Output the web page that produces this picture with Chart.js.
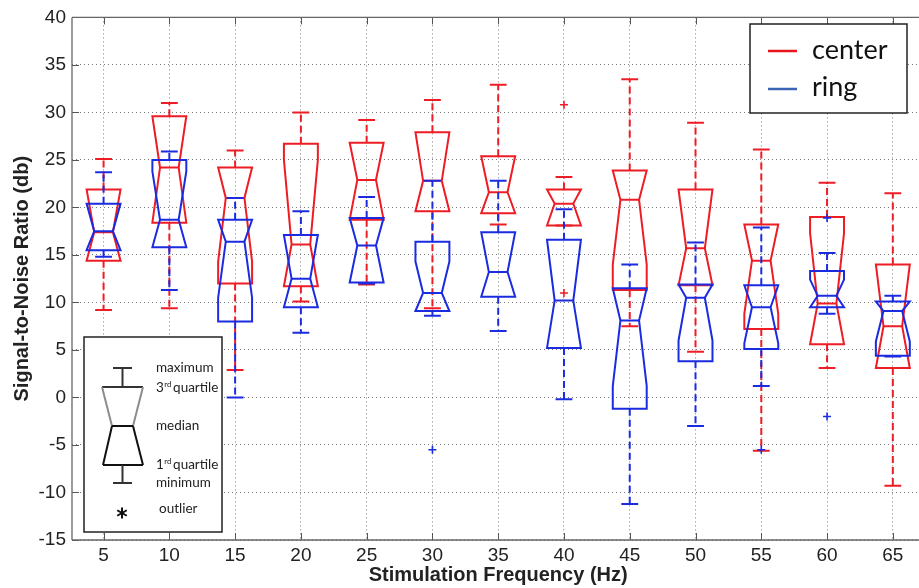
<!DOCTYPE html>
<html>
<head>
<meta charset="utf-8">
<script src="https://cdn.jsdelivr.net/npm/chart.js@4.4.1/dist/chart.umd.min.js"></script>
<style>
  html, body { margin: 0; padding: 0; background: #fff; overflow: hidden; }
  #wrap { width: 919px; height: 588px; overflow: hidden; }
</style>
</head>
<body>
<div id="wrap"><canvas id="snr-chart" width="930" height="588"></canvas></div>
<script>
// stimulation frequencies (Hz)
const frequencies = [5, 10, 15, 20, 25, 30, 35, 40, 45, 50, 55, 60, 65];

// center electrode (red)
const centerMax     = [25.1, 31.0, 26.0, 30.0, 29.2, 31.3, 32.9, 23.2, 33.5, 28.9, 26.1, 22.6, 21.5];
const centerQ3      = [21.9, 29.6, 24.2, 26.7, 26.8, 27.9, 25.4, 21.9, 23.9, 21.9, 18.2, 19.0, 14.0];
const centerNotchHi = [21.9, 29.6, 24.2, 25.0, 26.8, 27.9, 25.4, 21.9, 23.9, 21.9, 18.2, 17.3, 14.0];
const centerMedian  = [17.4, 24.2, 21.0, 16.1, 22.9, 22.8, 21.6, 20.4, 20.8, 15.7, 14.4, 9.9, 7.5];
const centerNotchLo = [14.4, 18.4, 14.3, 11.7, 18.7, 19.6, 19.4, 18.1, 14.0, 11.8, 8.8, 5.6, 3.1];
const centerQ1      = [14.4, 18.4, 12.0, 11.7, 18.7, 19.6, 19.4, 18.1, 11.3, 11.8, 7.2, 5.6, 3.1];
const centerMin     = [9.2, 9.4, 2.9, 10.1, 11.9, 9.4, 18.2, 18.1, 7.5, 4.8, -5.6, 3.1, -9.3];
const centerOutlierX = [40, 40];
const centerOutlierY = [30.8, 11.0];

// ring electrode (blue)
const ringMax     = [23.7, 25.9, 21.0, 19.6, 21.1, 22.8, 22.8, 19.8, 14.0, 16.3, 17.9, 15.2, 10.7];
const ringQ3      = [20.4, 25.0, 18.7, 17.1, 18.9, 16.4, 17.4, 16.6, 11.5, 11.9, 11.8, 13.3, 10.1];
const ringNotchHi = [20.4, 23.8, 18.7, 17.1, 18.9, 14.3, 17.4, 16.6, 11.5, 11.9, 11.8, 12.4, 10.1];
const ringMedian  = [17.5, 18.7, 16.4, 12.5, 16.0, 11.0, 13.2, 10.2, 8.1, 10.5, 9.5, 10.7, 9.1];
const ringNotchLo = [15.5, 15.8, 10.5, 9.5, 12.1, 9.1, 10.6, 5.2, 1.2, 6.0, 5.7, 9.5, 5.9];
const ringQ1      = [15.5, 15.8, 8.0, 9.5, 12.1, 9.1, 10.6, 5.2, -1.2, 3.8, 5.1, 9.5, 4.4];
const ringMin     = [14.8, 11.3, 0.0, 6.8, 12.0, 8.6, 7.0, -0.2, -11.2, -3.0, 1.2, 8.8, 4.3];
const ringOutlierX = [30, 55, 60, 60];
const ringOutlierY = [-5.5, -5.5, 18.9, -2.0];

const yTickMin = -15, yTickMax = 40, yTickStep = 5;

const RED = '#ee1c24';
const BLUE = '#1a2be0';
const FONT = "'Liberation Sans', Arial, sans-serif";
const KEY_FONT = "Lato, 'Open Sans', sans-serif";
const BOX_HALF = 1.29;   // Hz
const CAP_HALF = 0.64;   // Hz

function buildStats(mx, q3, nhi, med, nlo, q1, mn) {
  return frequencies.map((f, i) => ({
    f, max: mx[i], q3: q3[i], nhi: nhi[i], med: med[i], nlo: nlo[i], q1: q1[i], min: mn[i]
  }));
}
const centerStats = buildStats(centerMax, centerQ3, centerNotchHi, centerMedian, centerNotchLo, centerQ1, centerMin);
const ringStats = buildStats(ringMax, ringQ3, ringNotchHi, ringMedian, ringNotchLo, ringQ1, ringMin);

function seg(ctx, x1, y1, x2, y2) {
  ctx.beginPath();
  ctx.moveTo(x1, y1);
  ctx.lineTo(x2, y2);
  ctx.stroke();
}

function drawBox(ctx, xs, ys, s, color) {
  const cx = xs.getPixelForValue(s.f);
  const hw = xs.getPixelForValue(s.f + BOX_HALF) - cx;
  const nw = hw * 0.55;
  const cw = xs.getPixelForValue(s.f + CAP_HALF) - cx;
  const py = v => ys.getPixelForValue(v);

  ctx.strokeStyle = color;
  ctx.lineWidth = 2;
  ctx.lineJoin = 'miter';

  // whiskers
  ctx.setLineDash([7, 4]);
  seg(ctx, cx, py(s.q3), cx, py(s.max));
  seg(ctx, cx, py(s.q1), cx, py(s.min));
  ctx.setLineDash([]);
  seg(ctx, cx - cw, py(s.max), cx + cw, py(s.max));
  seg(ctx, cx - cw, py(s.min), cx + cw, py(s.min));

  // notched box
  ctx.beginPath();
  ctx.moveTo(cx - hw, py(s.q1));
  ctx.lineTo(cx - hw, py(s.nlo));
  ctx.lineTo(cx - nw, py(s.med));
  ctx.lineTo(cx - hw, py(s.nhi));
  ctx.lineTo(cx - hw, py(s.q3));
  ctx.lineTo(cx + hw, py(s.q3));
  ctx.lineTo(cx + hw, py(s.nhi));
  ctx.lineTo(cx + nw, py(s.med));
  ctx.lineTo(cx + hw, py(s.nlo));
  ctx.lineTo(cx + hw, py(s.q1));
  ctx.closePath();
  ctx.stroke();

  seg(ctx, cx - nw, py(s.med), cx + nw, py(s.med));
}

const boxPlugin = {
  id: 'notchedBoxes',
  beforeDatasetsDraw(chart) {
    const { ctx, chartArea: a, scales: { x, y } } = chart;
    ctx.save();
    ctx.beginPath();
    ctx.rect(a.left, a.top, a.right - a.left, a.bottom - a.top);
    ctx.clip();
    centerStats.forEach(s => drawBox(ctx, x, y, s, RED));
    ringStats.forEach(s => drawBox(ctx, x, y, s, BLUE));
    ctx.restore();
  },
  afterDatasetsDraw(chart) {
    const { ctx, chartArea: a, scales: { x, y } } = chart;
    ctx.save();
    ctx.strokeStyle = '#555';
    ctx.lineWidth = 1;
    // inward tick marks, MATLAB style
    x.ticks.forEach(t => {
      const px = Math.round(x.getPixelForValue(t.value)) + 0.5;
      seg(ctx, px, a.top, px, a.top + 7);
      seg(ctx, px, a.bottom, px, a.bottom - 7);
    });
    y.ticks.forEach(t => {
      const py = Math.round(y.getPixelForValue(t.value)) + 0.5;
      seg(ctx, a.left, py, a.left + 7, py);
    });
    ctx.strokeStyle = '#666';
    ctx.lineWidth = 1.3;
    seg(ctx, a.left, a.top, a.right, a.top);
    seg(ctx, a.left, a.top, a.left, a.bottom);
    seg(ctx, a.left, a.bottom, a.right, a.bottom);
    ctx.restore();
  },
  afterDraw(chart) {
    const { ctx } = chart;
    ctx.save();

    // series legend, top right
    ctx.fillStyle = '#fff';
    ctx.fillRect(750, 24, 157, 89);
    ctx.strokeStyle = '#222';
    ctx.lineWidth = 1.5;
    ctx.strokeRect(750, 24, 157, 89);
    ctx.lineWidth = 2.5;
    ctx.strokeStyle = '#e8141c';
    seg(ctx, 768, 51, 797, 51);
    ctx.strokeStyle = '#3c64b4';
    seg(ctx, 768, 89, 797, 89);
    ctx.fillStyle = '#111';
    ctx.font = '27px ' + KEY_FONT;
    ctx.textBaseline = 'middle';
    ctx.textAlign = 'left';
    ctx.fillText('center', 812, 50);
    ctx.fillText('ring', 812, 87);

    // box key, bottom left
    ctx.fillStyle = '#fff';
    ctx.fillRect(84, 337, 138, 195);
    ctx.strokeStyle = '#222';
    ctx.lineWidth = 1.5;
    ctx.strokeRect(84, 337, 138, 195);

    ctx.lineWidth = 2;
    ctx.strokeStyle = '#333';
    seg(ctx, 113, 368, 132, 368);
    seg(ctx, 122.5, 368, 122.5, 387);
    seg(ctx, 102, 387, 143, 387);
    ctx.strokeStyle = '#8c8c8c';
    seg(ctx, 102, 387, 112, 426);
    seg(ctx, 143, 387, 133, 426);
    ctx.strokeStyle = '#111';
    seg(ctx, 112, 426, 133, 426);
    seg(ctx, 112, 426, 103, 465);
    seg(ctx, 133, 426, 143, 465);
    seg(ctx, 103, 465, 143, 465);
    ctx.strokeStyle = '#333';
    seg(ctx, 122.5, 465, 122.5, 483);
    seg(ctx, 113, 483, 132, 483);

    // outlier glyph
    ctx.strokeStyle = '#111';
    ctx.lineWidth = 2;
    for (let k = 0; k < 3; k++) {
      const ang = Math.PI / 2 + k * Math.PI / 3;
      const dx = Math.cos(ang) * 5.5, dy = Math.sin(ang) * 5.5;
      seg(ctx, 122 - dx, 513 - dy, 122 + dx, 513 + dy);
    }

    ctx.fillStyle = '#222';
    ctx.font = '13.5px ' + KEY_FONT;
    ctx.fillText('maximum', 156, 368);
    ctx.fillText('median', 156, 426);
    ctx.fillText('minimum', 156, 483);
    ctx.fillText('outlier', 159, 509);
    const withSup = (base, sup, rest, yy) => {
      ctx.font = '13.5px ' + KEY_FONT;
      ctx.fillText(base, 156, yy);
      let xx = 156 + ctx.measureText(base).width;
      ctx.font = '8px ' + KEY_FONT;
      ctx.fillText(sup, xx + 0.5, yy - 4);
      xx += ctx.measureText(sup).width + 2;
      ctx.font = '13.5px ' + KEY_FONT;
      ctx.fillText(rest, xx, yy);
    };
    withSup('3', 'rd', 'quartile', 388);
    withSup('1', 'rd', 'quartile', 465);

    ctx.restore();
  }
};

const ctx = document.getElementById('snr-chart').getContext('2d');
new Chart(ctx, {
  type: 'scatter',
  data: {
    datasets: [
      {
        label: 'center',
        data: centerOutlierX.map((v, i) => ({ x: v, y: centerOutlierY[i] })),
        pointStyle: 'cross',
        radius: 4,
        borderColor: RED,
        borderWidth: 1.6,
      },
      {
        label: 'ring',
        data: ringOutlierX.map((v, i) => ({ x: v, y: ringOutlierY[i] })),
        pointStyle: 'cross',
        radius: 4,
        borderColor: BLUE,
        borderWidth: 1.6,
      },
    ],
  },
  options: {
    responsive: false,
    animation: false,
    layout: { padding: { top: 15, right: 3, left: 0, bottom: 0 } },
    plugins: {
      legend: { display: false },
      tooltip: { enabled: false },
    },
    scales: {
      x: {
        type: 'linear',
        min: 2.6,
        max: 67.4,
        afterBuildTicks: (axis) => {
          axis.ticks = frequencies.map(v => ({ value: v }));
        },
        afterFit: (axis) => { axis.height = 48; },
        ticks: {
          padding: 4,
          color: '#222',
          font: { family: FONT, size: 19 },
          callback: (v) => String(v),
        },
        grid: { color: '#7a7a7a', lineWidth: 1, drawTicks: false },
        border: { display: false, dash: [1, 3] },
        title: {
          display: true,
          text: 'Stimulation Frequency (Hz)',
          color: '#222',
          font: { family: FONT, size: 20, weight: 'bold' },
          padding: { top: 0, bottom: 1 },
        },
      },
      y: {
        min: yTickMin,
        max: yTickMax,
        afterFit: (axis) => { axis.width = 72; },
        ticks: {
          stepSize: yTickStep,
          padding: 6,
          color: '#222',
          font: { family: FONT, size: 19 },
        },
        grid: { color: '#7a7a7a', lineWidth: 1, drawTicks: false },
        border: { display: false, dash: [1, 3] },
        title: {
          display: true,
          text: 'Signal-to-Noise Ratio (db)',
          color: '#222',
          font: { family: FONT, size: 20, weight: 'bold' },
          padding: { top: 10, bottom: 0 },
        },
      },
    },
  },
  plugins: [boxPlugin],
});
</script>
</body>
</html>
